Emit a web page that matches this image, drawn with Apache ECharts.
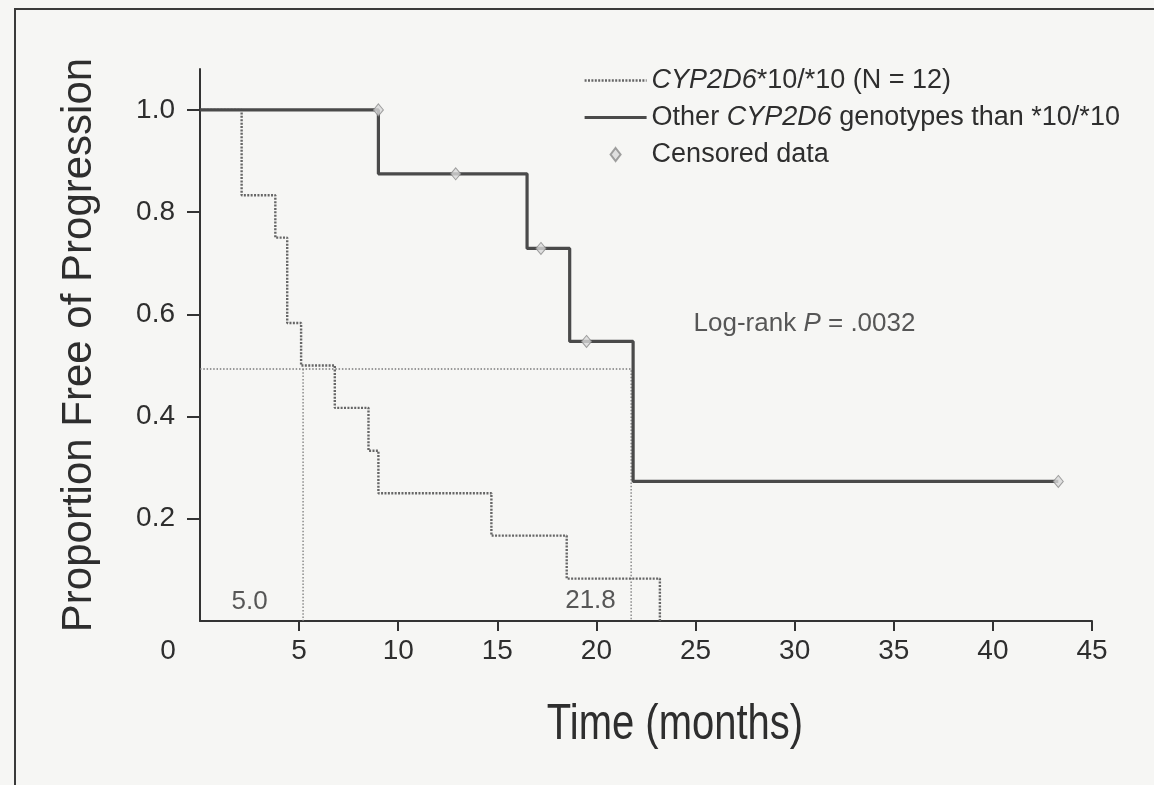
<!DOCTYPE html>
<html>
<head>
<meta charset="utf-8">
<script src="https://cdn.jsdelivr.net/npm/echarts@6/dist/echarts.min.js"></script>
<style>
html,body{margin:0;padding:0;background:#f6f6f4;}
#chart{width:1154px;height:785px;}
</style>
</head>
<body>
<div id="chart"></div>
<script>
// ---- data ----
const group1Times = [0, 2.1, 3.8, 4.4, 5.1, 6.8, 8.5, 9.0, 14.7, 18.5, 23.2];
const group1Surv  = [1, 0.833, 0.75, 0.583, 0.5, 0.417, 0.333, 0.25, 0.167, 0.083, 0];
const group2Times = [0, 9.0, 16.5, 18.65, 21.85, 43.3];
const group2Surv  = [1, 0.875, 0.729, 0.547, 0.273, 0.273];
const censorTimes = [9.0, 12.9, 17.2, 19.5, 43.3];
const censorSurv  = [1.0, 0.875, 0.729, 0.547, 0.273];
const medianLevel = 0.493;
const medianTimes = [5.2, 21.75];
const xTicks = [0, 5, 10, 15, 20, 25, 30, 35, 40, 45];
const yTicks = [0.2, 0.4, 0.6, 0.8, 1.0];
const legendLabels = {
  g1: '{i|CYP2D6}*10/*10 (N = 12)',
  g2: 'Other {i|CYP2D6} genotypes than *10/*10',
  cens: 'Censored data'
};
const xTitle = 'Time (months)';
const yTitle = 'Proportion Free of Progression';
const annotTexts = ['Log-rank {i|P} = .0032', '5.0', '21.8'];
const annotAnchors = [[24.9, 0.581], [2.5, 0.037], [19.7, 0.039]];

// ---- build ----
const zip = (xs, ys) => xs.map((x, i) => [x, ys[i]]);
const fontReg = "'Liberation Sans', Arial, sans-serif";
const textCol = '#2e2e2e';
const richItalic26 = { i: { fontStyle: 'italic', fontSize: 26, fontFamily: fontReg, color: textCol } };
const richItalic27 = { i: { fontStyle: 'italic', fontSize: 27, fontFamily: fontReg, color: textCol } };
// small diamond centred in a wide legend slot (end points only widen the bounding box)
const censorLegendIcon = 'path://M0,7L0.01,7M62,7L61.99,7M31,0.5L36,7L31,13.5L26,7Z';

const chart = echarts.init(document.getElementById('chart'), null, { renderer: 'canvas' });
chart.setOption({
  backgroundColor: '#f6f6f4',
  animation: false,
  graphic: [
    {
      type: 'rect', silent: true, z: 100,
      shape: { x: 15, y: 9, width: 1400, height: 1000 },
      style: { fill: 'none', stroke: '#3a3a3a', lineWidth: 2 }
    },
    {
      type: 'text', silent: true, z: 100,
      x: 675, y: 725, scaleX: 0.8,
      style: {
        text: xTitle, font: "50px 'Liberation Sans', Arial, sans-serif",
        fill: textCol, align: 'center', verticalAlign: 'middle'
      }
    }
  ],
  grid: { left: 200, right: 62, top: 69, bottom: 164, outerBoundsMode: 'none', containLabel: false },
  legend: {
    orient: 'vertical', left: 578, top: 62,
    itemWidth: 62, itemHeight: 14, itemGap: 10,
    data: [
      { name: 'g1', itemStyle: { opacity: 0 } },
      { name: 'g2', itemStyle: { opacity: 0 } },
      { name: 'cens', icon: censorLegendIcon }
    ],
    symbolKeepAspect: true,
    lineStyle: { width: 'inherit' },
    formatter: n => legendLabels[n],
    textStyle: { fontSize: 27, fontFamily: fontReg, color: textCol, rich: richItalic27 },
    selectedMode: false
  },
  xAxis: {
    type: 'value', min: 0, max: 45, interval: 5,
    axisLine: { show: true, lineStyle: { color: '#333', width: 2 } },
    axisTick: { show: true, length: 10, lineStyle: { color: '#333', width: 2 }, customValues: xTicks.slice(1) },
    axisLabel: {
      margin: 16, fontSize: 28, fontFamily: fontReg, color: textCol,
      customValues: xTicks,
      formatter: v => v === 0 ? '{z|0}' : String(v),
      rich: { z: { padding: [0, 64, 0, 0], fontSize: 28, fontFamily: fontReg, color: textCol } }
    },
    splitLine: { show: false }
  },
  yAxis: {
    type: 'value', min: 0, max: 1.08, interval: 0.2,
    name: yTitle, nameLocation: 'middle', nameGap: 100,
    nameTextStyle: { fontSize: 42, fontFamily: fontReg, color: textCol },
    axisLine: { show: true, lineStyle: { color: '#333', width: 2 } },
    axisTick: { show: true, length: 13, lineStyle: { color: '#333', width: 2 }, customValues: yTicks },
    axisLabel: {
      margin: 25, fontSize: 28, fontFamily: fontReg, color: textCol,
      customValues: yTicks, formatter: v => v.toFixed(1)
    },
    splitLine: { show: false }
  },
  series: [
    {
      name: 'medianH', type: 'line', symbol: 'none', silent: true, z: 1,
      data: [[0, medianLevel], [medianTimes[1], medianLevel], [medianTimes[1], 0]],
      lineStyle: { color: '#7a7a7a', width: 1.3, type: [1.5, 1.8] }
    },
    {
      name: 'medianV', type: 'line', symbol: 'none', silent: true, z: 1,
      data: [[medianTimes[0], medianLevel], [medianTimes[0], 0]],
      lineStyle: { color: '#7a7a7a', width: 1.3, type: [1.5, 1.8] }
    },
    {
      name: 'g1', type: 'line', step: 'end', symbol: 'none', z: 3,
      data: zip(group1Times, group1Surv),
      color: '#666',
      lineStyle: { color: '#666', width: 2.4, type: [2, 1.4] }
    },
    {
      name: 'g2', type: 'line', step: 'end', symbol: 'none', z: 4,
      data: zip(group2Times, group2Surv),
      color: '#4a4a4a',
      lineStyle: { color: '#4a4a4a', width: 3.2 }
    },
    {
      name: 'cens', type: 'scatter', symbol: 'diamond', symbolSize: [10, 12], z: 5,
      data: zip(censorTimes, censorSurv),
      itemStyle: { color: '#dadada', borderColor: '#8a8a8a', borderWidth: 1 }
    },
    {
      name: 'annot', type: 'scatter', symbolSize: 0, silent: true, z: 6,
      data: annotAnchors.map((p, i) => ({
        value: p, name: String(i),
        label: i === 0 ? { position: 'right', distance: 0 } : {}
      })),
      label: {
        show: true,
        formatter: p => annotTexts[p.dataIndex],
        position: 'inside',
        fontSize: 26, fontFamily: fontReg, color: textCol, rich: richItalic26
      }
    }
  ]
});
</script>
</body>
</html>
